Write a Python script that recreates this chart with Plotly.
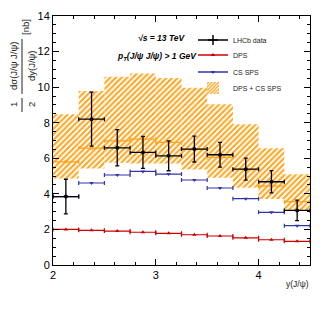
import plotly.graph_objects as go

# ---- data ----
bin_centers = [2.125, 2.375, 2.625, 2.875, 3.125, 3.375, 3.625, 3.875, 4.125, 4.375]
bin_half = [0.125] * 10
lhcb = [3.85, 8.20, 6.59, 6.33, 6.14, 6.52, 6.20, 5.39, 4.68, 3.07]
lhcb_err = [0.97, 1.52, 1.02, 0.90, 0.84, 0.73, 0.70, 0.62, 0.63, 0.58]
dps = [2.00, 1.95, 1.91, 1.84, 1.78, 1.70, 1.63, 1.53, 1.42, 1.33]
cs_sps = [3.85, 4.61, 5.06, 5.26, 5.11, 4.78, 4.33, 3.73, 2.96, 2.21]
sum_central = [5.80, 6.57, 6.98, 7.08, 6.89, 6.50, 6.05, 5.36, 4.44, 3.56]
sum_hi = [8.47, 9.78, 10.58, 10.77, 10.52, 9.96, 9.04, 7.92, 6.57, 5.10]
sum_lo = [4.87, 5.43, 5.75, 5.70, 5.70, 5.37, 4.91, 4.35, 3.71, 3.03]
x_ticks = [2, 3, 4]
y_ticks = [0, 2, 4, 6, 8, 10, 12, 14]

BLACK = "#000000"
RED = "#cc0000"
BLUE = "#3333aa"
ORANGE = "#ffa31a"
FONT = "Liberation Sans, Arial, sans-serif"

# page has an 8px body margin: size the figure so it fits the 327x316 window
OFF = 8
W, H = 327 - OFF, 316 - OFF
ML, MT = 53 - OFF, 16 - OFF
PW, PH = 257, 249
MR, MB = W - ML - PW, H - MT - PH


def px(xw):
    """window pixel x -> paper coordinate"""
    return (xw - OFF - ML) / PW


def py(yw):
    """window pixel y -> paper coordinate"""
    return 1 - (yw - OFF - MT) / PH


hatch = dict(shape="/", fgcolor=ORANGE, bgcolor="rgba(0,0,0,0)",
             size=4, solidity=0.5, fgopacity=1)

fig = go.Figure()

# hatched band DPS + CS SPS
fig.add_trace(go.Bar(
    x=bin_centers,
    y=[h - l for h, l in zip(sum_hi, sum_lo)],
    base=sum_lo,
    width=0.25,
    marker=dict(color="rgba(0,0,0,0)", line=dict(width=0), pattern=hatch),
    showlegend=False,
))

# DPS
fig.add_trace(go.Scatter(
    x=bin_centers, y=dps, mode="markers",
    marker=dict(symbol="triangle-up", size=4, color=RED),
    error_x=dict(type="data", array=bin_half, color=RED, thickness=1.2, width=2),
    showlegend=False,
))
# CS SPS
fig.add_trace(go.Scatter(
    x=bin_centers, y=cs_sps, mode="markers",
    marker=dict(symbol="triangle-down", size=4, color=BLUE),
    error_x=dict(type="data", array=bin_half, color=BLUE, thickness=1.2, width=2),
    showlegend=False,
))
# DPS + CS SPS central
fig.add_trace(go.Scatter(
    x=bin_centers, y=sum_central, mode="markers",
    marker=dict(symbol="square", size=3, color=ORANGE),
    error_x=dict(type="data", array=bin_half, color=ORANGE, thickness=1.2, width=2),
    showlegend=False,
))
# LHCb data
fig.add_trace(go.Scatter(
    x=bin_centers, y=lhcb, mode="markers",
    marker=dict(symbol="circle", size=4, color=BLACK),
    error_x=dict(type="data", array=bin_half, color=BLACK, thickness=1.3, width=2),
    error_y=dict(type="data", array=lhcb_err, color=BLACK, thickness=1.3, width=2),
    showlegend=False,
))

# legend entries (one legend box per entry for ROOT-like spacing)
fig.add_trace(go.Scatter(x=[None], y=[None], mode="lines+markers", name="LHCb data",
                         legend="legend",
                         line=dict(color=BLACK, width=1.5),
                         marker=dict(symbol="cross-thin", size=7, color=BLACK,
                                     line=dict(color=BLACK, width=1.5))))
fig.add_trace(go.Scatter(x=[None], y=[None], mode="lines+markers", name="DPS",
                         legend="legend2",
                         line=dict(color=RED, width=1.5),
                         marker=dict(symbol="triangle-up", size=4, color=RED)))
fig.add_trace(go.Scatter(x=[None], y=[None], mode="lines+markers", name="CS SPS",
                         legend="legend3",
                         line=dict(color=BLUE, width=1.5),
                         marker=dict(symbol="triangle-down", size=4, color=BLUE)))
fig.add_trace(go.Bar(x=[None], y=[None], name="DPS + CS SPS",
                     legend="legend4",
                     marker=dict(color="rgba(0,0,0,0)", line=dict(width=0),
                                 pattern=dict(shape="/", fgcolor=ORANGE,
                                              bgcolor="rgba(0,0,0,0)", size=3,
                                              solidity=0.55, fgopacity=1))))


def legend_at(yw):
    return dict(x=px(193), y=py(yw), xanchor="left", yanchor="middle",
                bgcolor="rgba(0,0,0,0)", borderwidth=0,
                font=dict(family=FONT, size=7, color="#222"), itemwidth=30)


axis_common = dict(
    showgrid=False, zeroline=False,
    showline=True, linecolor=BLACK, linewidth=1, mirror="allticks",
    ticks="inside", ticklen=6, tickcolor=BLACK, tickwidth=1,
    tickfont=dict(family=FONT, size=11, color=BLACK),
)

fig.update_layout(
    width=W, height=H,
    margin=dict(l=ML, r=MR, t=MT, b=MB, autoexpand=False),
    paper_bgcolor="white", plot_bgcolor="white",
    barmode="overlay",
    font=dict(family=FONT, color=BLACK),
    xaxis=dict(range=[2, 4.5], tickvals=x_ticks, ticktext=[str(v) for v in x_ticks],
               minor=dict(dtick=0.2, tick0=2, ticks="inside", ticklen=3,
                          tickcolor=BLACK, showgrid=False),
               **axis_common),
    yaxis=dict(range=[0, 14], tickvals=y_ticks, ticktext=[str(v) for v in y_ticks],
               minor=dict(dtick=0.5, tick0=0, ticks="inside", ticklen=3,
                          tickcolor=BLACK, showgrid=False),
               **axis_common),
    legend=legend_at(40),
    legend2=legend_at(55),
    legend3=legend_at(72),
    legend4=legend_at(88),
    showlegend=True,
)

ann = []
# x-axis title
ann.append(dict(x=px(311), y=py(284), xref="paper", yref="paper", text="y(J/ψ)",
                showarrow=False, xanchor="right", yanchor="middle",
                font=dict(family=FONT, size=8.5, color="#222")))
# physics labels
ann.append(dict(x=px(162), y=py(38), xref="paper", yref="paper",
                text="<b><i>√s = 13 TeV</i></b>", showarrow=False,
                xanchor="center", yanchor="middle",
                font=dict(family=FONT, size=8.5, color=BLACK)))
ann.append(dict(x=px(157), y=py(56), xref="paper", yref="paper",
                text="<b><i>p<sub>T</sub>(J/ψ J/ψ) > 1 GeV</i></b>", showarrow=False,
                xanchor="center", yanchor="middle",
                font=dict(family=FONT, size=8.5, color=BLACK)))
# y-axis title pieces (rotated)
ytitle_font = dict(family=FONT, size=9.5, color="#222")
ann.append(dict(x=px(13), y=py(105), xref="paper", yref="paper", text="1",
                textangle=-90, showarrow=False, xanchor="center", yanchor="middle",
                font=ytitle_font))
ann.append(dict(x=px(31), y=py(105), xref="paper", yref="paper", text="2",
                textangle=-90, showarrow=False, xanchor="center", yanchor="middle",
                font=ytitle_font))
ann.append(dict(x=px(13), y=py(66), xref="paper", yref="paper", text="dσ(J/ψ J/ψ)",
                textangle=-90, showarrow=False, xanchor="center", yanchor="middle",
                font=ytitle_font))
ann.append(dict(x=px(31), y=py(66), xref="paper", yref="paper", text="dy(J/ψ)",
                textangle=-90, showarrow=False, xanchor="center", yanchor="middle",
                font=ytitle_font))
ann.append(dict(x=px(25), y=py(27), xref="paper", yref="paper", text="[nb]",
                textangle=-90, showarrow=False, xanchor="center", yanchor="middle",
                font=ytitle_font))
fig.update_layout(annotations=ann)

shapes = [
    dict(type="line", xref="paper", yref="paper", x0=px(22), x1=px(22),
         y0=py(98), y1=py(112), line=dict(color="#222", width=1)),
    dict(type="line", xref="paper", yref="paper", x0=px(22), x1=px(22),
         y0=py(39), y1=py(94), line=dict(color="#222", width=1)),
]
fig.update_layout(shapes=shapes)

fig.write_html("out.html")
